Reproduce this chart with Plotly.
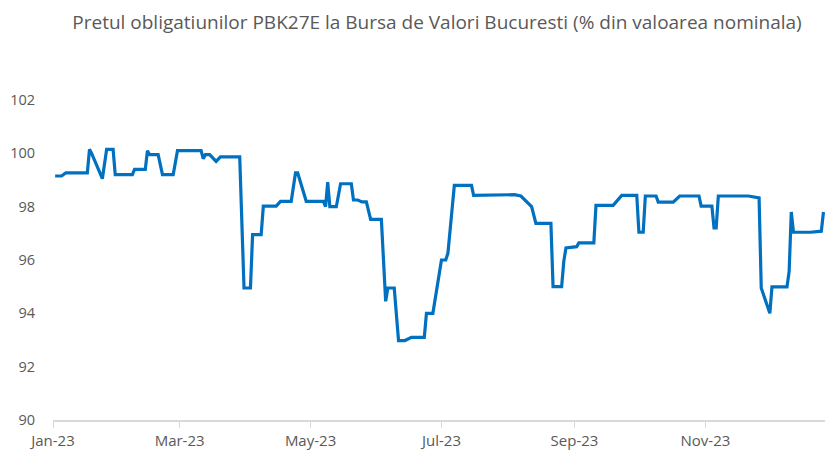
import plotly.graph_objects as go

dates = [
    "2023-01-02", "2023-01-05", "2023-01-07", "2023-01-17", "2023-01-18", "2023-01-19",
    "2023-01-24", "2023-01-26", "2023-01-29", "2023-01-30", "2023-02-07", "2023-02-08",
    "2023-02-13", "2023-02-14", "2023-02-15", "2023-02-19", "2023-02-21", "2023-02-26",
    "2023-02-28", "2023-03-11", "2023-03-12", "2023-03-13", "2023-03-15", "2023-03-18",
    "2023-03-20", "2023-03-29", "2023-03-31", "2023-04-03", "2023-04-04", "2023-04-08",
    "2023-04-09", "2023-04-15", "2023-04-17", "2023-04-22", "2023-04-24", "2023-04-25",
    "2023-04-29", "2023-05-07", "2023-05-08", "2023-05-09", "2023-05-10", "2023-05-13",
    "2023-05-15", "2023-05-20", "2023-05-21", "2023-05-23", "2023-05-25", "2023-05-27",
    "2023-05-29", "2023-06-03", "2023-06-05", "2023-06-06", "2023-06-09", "2023-06-11",
    "2023-06-14", "2023-06-17", "2023-06-23", "2023-06-24", "2023-06-27", "2023-07-01",
    "2023-07-03", "2023-07-04", "2023-07-07", "2023-07-15", "2023-07-16", "2023-08-04",
    "2023-08-07", "2023-08-11", "2023-08-12", "2023-08-14", "2023-08-21", "2023-08-22",
    "2023-08-26", "2023-08-27", "2023-08-28", "2023-09-02", "2023-09-03", "2023-09-10",
    "2023-09-11", "2023-09-19", "2023-09-23", "2023-09-30", "2023-10-01", "2023-10-03",
    "2023-10-04", "2023-10-09", "2023-10-10", "2023-10-17", "2023-10-20", "2023-10-29",
    "2023-10-30", "2023-11-04", "2023-11-05", "2023-11-06", "2023-11-07", "2023-11-21",
    "2023-11-25", "2023-11-26", "2023-11-27", "2023-12-01", "2023-12-02", "2023-12-09",
    "2023-12-10", "2023-12-11", "2023-12-12", "2023-12-20", "2023-12-25", "2023-12-26",
]
prices = [
    99.15, 99.15, 99.27, 99.27, 100.15, 100.0,
    99.05, 100.15, 100.15, 99.2, 99.2, 99.4,
    99.4, 100.1, 99.95, 99.95, 99.2, 99.2,
    100.1, 100.1, 99.8, 99.95, 99.95, 99.7,
    99.87, 99.87, 94.95, 94.95, 96.95, 96.95,
    98.02, 98.02, 98.2, 98.2, 99.27, 99.27,
    98.2, 98.2, 98.0, 98.92, 98.0, 98.0,
    98.86, 98.86, 98.25, 98.25, 98.18, 98.18,
    97.52, 97.52, 94.45, 94.95, 94.95, 92.98,
    92.98, 93.1, 93.1, 94.0, 94.0, 96.0,
    96.0, 96.25, 98.8, 98.8, 98.42, 98.45,
    98.4, 98.1, 98.0, 97.37, 97.37, 95.0,
    95.0, 95.95, 96.45, 96.5, 96.64, 96.64,
    98.05, 98.05, 98.42, 98.42, 97.04, 97.04,
    98.4, 98.4, 98.17, 98.17, 98.4, 98.4,
    98.02, 98.02, 97.2, 97.2, 98.4, 98.4,
    98.33, 98.33, 94.95, 94.0, 94.99, 94.99,
    95.57, 97.8, 97.04, 97.04, 97.08, 97.8,
]

x_tick_vals = ["2023-01-01", "2023-03-01", "2023-05-01", "2023-07-01", "2023-09-01", "2023-11-01"]
x_tick_text = ["Jan-23", "Mar-23", "May-23", "Jul-23", "Sep-23", "Nov-23"]
y_tick_vals = [90, 92, 94, 96, 98, 100, 102]

title_text = "Pretul obligatiunilor PBK27E la Bursa de Valori Bucuresti (% din valoarea nominala)"

fig = go.Figure()
fig.add_trace(go.Scatter(
    x=dates, y=prices, mode="lines",
    line=dict(color="#0070C0", width=3.2),
    showlegend=False,
))

fig.update_layout(
    width=825, height=453,
    margin=dict(l=53, r=0, t=100, b=33, autoexpand=False),
    paper_bgcolor="white", plot_bgcolor="white",
    font=dict(family="Open Sans", color="#595959", size=14),
    title=dict(text=title_text, x=437 / 825, xanchor="center", y=1 - 22 / 453, yanchor="middle",
               font=dict(size=19, color="#595959", family="Open Sans")),
    xaxis=dict(
        type="date", range=["2023-01-01", "2023-12-26 17:00"],
        tickvals=x_tick_vals, ticktext=x_tick_text,
        showgrid=False, showline=True, linecolor="#d9d9d9", linewidth=1.5,
        ticks="outside", ticklen=6, tickcolor="#d9d9d9", tickwidth=1,
        zeroline=False, automargin=False, tickfont=dict(size=15, color="#595959"),
    ),
    yaxis=dict(
        range=[90, 102], tickvals=y_tick_vals,
        showgrid=False, showline=False, zeroline=False, automargin=False,
        ticks="outside", ticklen=14, tickcolor="rgba(0,0,0,0)",
        tickfont=dict(size=14.5, color="#595959"),
    ),
)

fig.write_html("out.html", config={"displayModeBar": False},
               post_script="document.body.style.margin='0';")
